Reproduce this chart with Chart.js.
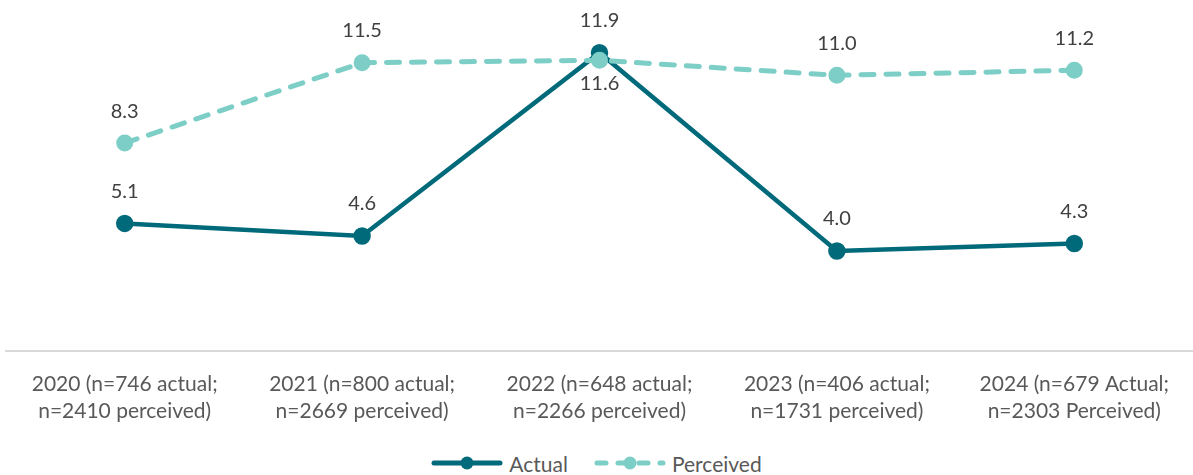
<!DOCTYPE html>
<html>
<head>
<meta charset="utf-8">
<script src="https://cdn.jsdelivr.net/npm/chart.js@4.4.0/dist/chart.umd.min.js"></script>
<style>
  html, body { margin: 0; padding: 0; background: #fff; }
  body { position: relative; width: 1193px; height: 475px; overflow: hidden; font-family: "Lato", "Open Sans", sans-serif; }
  #wrap { position: absolute; left: 0; top: 0; width: 1193px; height: 436px; }
  #legend { position: absolute; left: 0; top: 450px; width: 1193px; height: 26px; display: flex; justify-content: center; align-items: center; gap: 26px; font-size: 21px; color: #595959; }
  .item { display: flex; align-items: center; gap: 6px; }
</style>
</head>
<body>
<div id="wrap"><canvas id="chart"></canvas></div>
<div id="legend"></div>
<script>
const labels = [
  ["2020 (n=746 actual;", "n=2410 perceived)"],
  ["2021 (n=800 actual;", "n=2669 perceived)"],
  ["2022 (n=648 actual;", "n=2266 perceived)"],
  ["2023 (n=406 actual;", "n=1731 perceived)"],
  ["2024 (n=679 Actual;", "n=2303 Perceived)"],
];
const actual = [5.1, 4.6, 11.9, 4.0, 4.3];
const perceived = [8.3, 11.5, 11.6, 11.0, 11.2];

const actualColor = "#006a7a";
const perceivedColor = "#7dcec6";

// values go above the point, except where the lines cross in 2022
const perceivedBelow = [false, false, true, false, false];

const valueLabels = {
  id: "valueLabels",
  afterDatasetsDraw(chart) {
    const ctx = chart.ctx;
    ctx.save();
    ctx.font = '20px "Lato", "Open Sans", sans-serif';
    ctx.fillStyle = "#404040";
    ctx.textAlign = "center";
    ctx.textBaseline = "middle";
    chart.data.datasets.forEach((ds, i) => {
      const meta = chart.getDatasetMeta(i);
      meta.data.forEach((pt, j) => {
        const below = ds.label === "Perceived" && perceivedBelow[j];
        ctx.fillText(ds.data[j].toFixed(1), pt.x, pt.y + (below ? 23 : -32));
      });
    });
    ctx.restore();
  },
};

new Chart(document.getElementById("chart"), {
  type: "line",
  data: {
    labels: labels,
    datasets: [
      {
        label: "Actual",
        data: actual,
        borderColor: actualColor,
        backgroundColor: actualColor,
        borderWidth: 4.5,
        pointRadius: 6.5,
        pointHoverRadius: 6.5,
        order: 1,
      },
      {
        label: "Perceived",
        data: perceived,
        borderColor: perceivedColor,
        backgroundColor: perceivedColor,
        borderWidth: 5,
        borderDash: [13, 12],
        borderCapStyle: "round",
        pointRadius: 6,
        pointHoverRadius: 6,
        order: 0,
      },
    ],
  },
  options: {
    responsive: true,
    maintainAspectRatio: false,
    animation: false,
    layout: { autoPadding: false, padding: { left: 6, right: -2, top: 0, bottom: 0 } },
    plugins: { legend: { display: false }, tooltip: { enabled: false } },
    scales: {
      x: {
        offset: true,
        grid: { display: false },
        border: { display: true, color: "#d9d9d9", width: 2 },
        ticks: {
          color: "#595959",
          font: { family: '"Lato", "Open Sans", sans-serif', size: 21, lineHeight: 1.3 },
          padding: 11,
          maxRotation: 0,
        },
      },
      y: { display: false, min: 0, max: 14 },
    },
  },
  plugins: [valueLabels],
});

// legend: line with marker, like the reference
const legendEl = document.getElementById("legend");
[
  { text: "Actual", color: actualColor, dash: "" },
  { text: "Perceived", color: perceivedColor, dash: "9 12" },
].forEach((s) => {
  const item = document.createElement("div");
  item.className = "item";
  item.innerHTML =
    '<svg width="72" height="16"><line x1="3" y1="8" x2="69" y2="8" stroke="' + s.color +
    '" stroke-width="5" stroke-linecap="round" stroke-dasharray="' + s.dash +
    '"/><circle cx="36" cy="8" r="6.5" fill="' + s.color + '"/></svg><span>' + s.text + "</span>";
  legendEl.appendChild(item);
});
</script>
</body>
</html>
